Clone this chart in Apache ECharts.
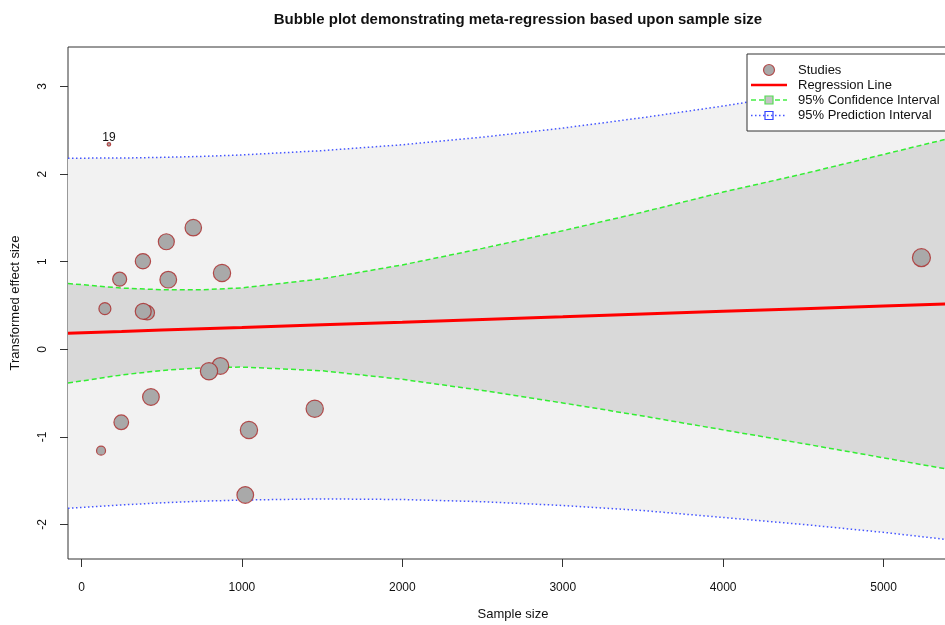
<!DOCTYPE html>
<html>
<head>
<meta charset="utf-8">
<script src="https://cdn.jsdelivr.net/npm/echarts@6/dist/echarts.min.js"></script>
<style>
html,body{margin:0;padding:0;background:#fff;}
#chart{width:945px;height:625px;}
</style>
</head>
<body>
<div id="chart"></div>
<script>
// ---- Data ----
const studyIds     = [1, 2, 3, 4, 5, 6, 7, 8, 9, 10, 11, 12, 13, 14, 15, 16, 17, 18, 19];
const sampleSize   = [697, 529, 383, 238, 541, 876, 146, 410, 385, 866, 795, 433, 248, 122, 1044, 1454, 1021, 5236, 171];
const effectSize   = [1.388, 1.228, 1.005, 0.800, 0.795, 0.871, 0.464, 0.418, 0.434, -0.190, -0.251, -0.545, -0.833, -1.157, -0.921, -0.678, -1.663, 1.046, 2.340];
const studyWeight  = [68, 64, 58.5, 49, 69.7, 74.8, 36, 52.6, 64, 69.7, 74.8, 69.7, 54, 20.3, 74.8, 74.8, 69.7, 81, 3.1];
const labelledStudies = [19];

const curveX     = [-84, 250, 500, 750, 1000, 1500, 2000, 2500, 3000, 3500, 4000, 4500, 5000, 5464];
const regression = [0.183, 0.203, 0.219, 0.234, 0.249, 0.280, 0.310, 0.341, 0.371, 0.402, 0.433, 0.463, 0.493, 0.521];
const ciUpper    = [0.751, 0.699, 0.680, 0.679, 0.701, 0.805, 0.963, 1.152, 1.354, 1.566, 1.795, 2.003, 2.225, 2.432];
const ciLower    = [-0.385, -0.293, -0.242, -0.211, -0.203, -0.245, -0.343, -0.470, -0.612, -0.762, -0.920, -1.077, -1.239, -1.390];
const piUpper    = [2.182, 2.183, 2.191, 2.202, 2.219, 2.268, 2.335, 2.422, 2.525, 2.645, 2.777, 2.922, 3.076, 3.228];
const piLower    = [-1.816, -1.777, -1.753, -1.734, -1.721, -1.708, -1.715, -1.740, -1.783, -1.841, -1.920, -2.000, -2.090, -2.186];

const xTicks = [0, 1000, 2000, 3000, 4000, 5000];
const yTicks = [-2, -1, 0, 1, 2, 3];

const titleText = 'Bubble plot demonstrating meta-regression based upon sample size';
const xName = 'Sample size';
const yName = 'Transformed effect size';
const legendNames = ['Studies', 'Regression Line', '95% Confidence Interval', '95% Prediction Interval'];

// ---- Chart ----
const FONT = "'Liberation Sans', Arial, Helvetica, sans-serif";
const chart = echarts.init(document.getElementById('chart'), null, {renderer: 'canvas'});

function band(lower, upper, color, z) {
  return {
    type: 'custom', z: z, silent: true, clip: true,
    data: curveX.map((x, i) => [x, lower[i], upper[i]]),
    encode: {x: 0, y: [1, 2]},
    renderItem: function (params, api) {
      if (params.dataIndex !== 0) return null;
      const pts = [];
      for (let i = 0; i < curveX.length; i++) pts.push(api.coord([curveX[i], upper[i]]));
      for (let i = curveX.length - 1; i >= 0; i--) pts.push(api.coord([curveX[i], lower[i]]));
      return {type: 'polygon', shape: {points: pts}, style: {fill: color}};
    }
  };
}
function curve(vals, color, type, width, z) {
  return {
    type: 'line', z: z, silent: true, showSymbol: false, symbol: 'none', clip: true,
    data: curveX.map((x, i) => [x, vals[i]]),
    lineStyle: {color: color, type: type, width: width}
  };
}

const studyData = sampleSize.map((x, i) => {
  const item = {value: [x, effectSize[i], studyWeight[i]]};
  if (labelledStudies.indexOf(studyIds[i]) >= 0) {
    item.label = {show: true, formatter: String(studyIds[i]), position: 'top', distance: -2,
      color: '#111', fontSize: 12, fontFamily: FONT};
  }
  return item;
});

const LX = 747, LY = 54;
const legendGraphic = [
  {type: 'rect', shape: {x: LX, y: LY, width: 230, height: 77}, style: {fill: '#fff', stroke: '#333', lineWidth: 1}, z: 100},
  {type: 'circle', shape: {cx: 769, cy: 70, r: 5.5}, style: {fill: '#a9a9a9', stroke: 'rgba(170,40,40,0.8)', lineWidth: 1.2}, z: 101},
  {type: 'line', shape: {x1: 751, y1: 85, x2: 787, y2: 85}, style: {stroke: '#ff0000', lineWidth: 2.5}, z: 101},
  {type: 'line', shape: {x1: 751, y1: 100, x2: 787, y2: 100}, style: {stroke: '#44ee44', lineWidth: 1.5, lineDash: [5, 3]}, z: 101},
  {type: 'rect', shape: {x: 765, y: 96, width: 8, height: 8}, style: {fill: '#c4c4c4', stroke: '#55dd55', lineWidth: 1.2}, z: 102},
  {type: 'line', shape: {x1: 751, y1: 115.5, x2: 787, y2: 115.5}, style: {stroke: '#4455ff', lineWidth: 1.5, lineDash: [1.5, 2.5]}, z: 101},
  {type: 'rect', shape: {x: 765, y: 111.5, width: 8, height: 8}, style: {fill: 'none', stroke: '#3344ff', lineWidth: 1.2}, z: 102}
];
[70, 85, 100, 115.5].forEach((y, i) => {
  legendGraphic.push({type: 'text', x: 798, y: y, z: 101,
    style: {text: legendNames[i], fill: '#111', font: '13px ' + FONT, textVerticalAlign: 'middle', verticalAlign: 'middle'}});
});

const option = {
  animation: false,
  backgroundColor: '#fff',
  title: {
    text: titleText, left: 513, top: 7, textAlign: 'center',
    textStyle: {fontSize: 15, fontWeight: 'bold', color: '#111', fontFamily: FONT}
  },
  grid: {
    left: 68, right: -13, top: 47, bottom: 66, show: true,
    containLabel: false, outerBoundsMode: 'none',
    backgroundColor: '#fff', borderColor: '#333', borderWidth: 1
  },
  xAxis: {
    type: 'value', min: -84, max: 5464, position: 'bottom',
    name: xName, nameLocation: 'middle', nameGap: 49,
    nameTextStyle: {fontSize: 13, color: '#111', fontFamily: FONT},
    axisLine: {show: false, onZero: false},
    splitLine: {show: false},
    axisTick: {show: true, inside: false, length: 8, customValues: xTicks, lineStyle: {color: '#333'}},
    axisLabel: {customValues: xTicks, margin: 23, fontSize: 12, color: '#111', fontFamily: FONT,
      formatter: v => String(v)}
  },
  yAxis: {
    type: 'value', min: -2.394, max: 3.451, position: 'left',
    name: yName, nameLocation: 'middle', nameGap: 46, nameRotate: 90,
    nameTextStyle: {fontSize: 13, color: '#111', fontFamily: FONT},
    axisLine: {show: false, onZero: false},
    splitLine: {show: false},
    axisTick: {show: true, inside: false, length: 8, customValues: yTicks, lineStyle: {color: '#333'}},
    axisLabel: {customValues: yTicks, rotate: 90, margin: 19, fontSize: 12, color: '#111', fontFamily: FONT,
      formatter: v => String(v)}
  },
  series: [
    band(piLower, piUpper, '#f2f2f2', 1),
    band(ciLower, ciUpper, '#d9d9d9', 2),
    curve(piUpper, '#4455ff', [1.5, 2.5], 1.5, 3),
    curve(piLower, '#4455ff', [1.5, 2.5], 1.5, 3),
    curve(ciUpper, '#33ee33', [5, 3], 1.5, 4),
    curve(ciLower, '#33ee33', [5, 3], 1.5, 4),
    curve(regression, '#ff0000', 'solid', 3, 5),
    {
      type: 'scatter', z: 6, data: studyData,
      symbolSize: v => 2 * Math.sqrt(v[2]),
      itemStyle: {color: '#a9a9a9', borderColor: 'rgba(170,40,40,0.8)', borderWidth: 1.2, opacity: 1}
    }
  ],
  graphic: legendGraphic
};
chart.setOption(option);
</script>
</body>
</html>
